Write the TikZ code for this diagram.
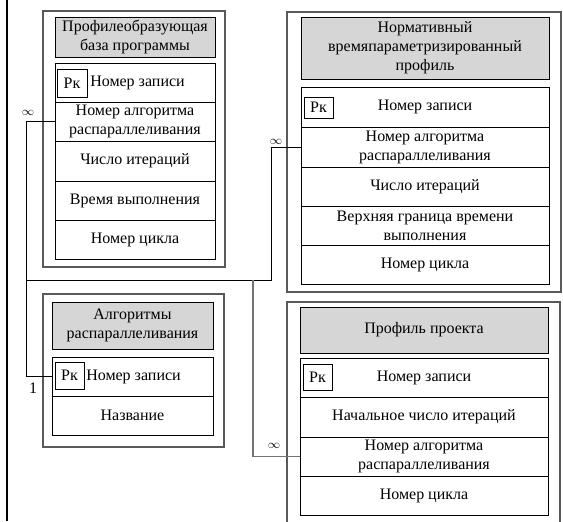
\documentclass[tikz,border=0pt]{standalone}
\usepackage{fontspec}
\setmainfont{Liberation Serif}
\begin{document}
\begin{tikzpicture}[x=0.75pt,y=-0.75pt,
  font=\fontsize{12}{14.25}\selectfont,
  frame/.style={draw=black!65, line width=1pt},
  cell/.style={draw=black, line width=0.75pt, align=center, inner sep=0pt},
  head/.style={cell, fill=black!16},
  pk/.style={draw=black, line width=0.75pt, inner sep=0pt},
  link/.style={draw=black, line width=0.75pt},
  glink/.style={draw=black!55, line width=1pt},
  mult/.style={inner sep=0pt},
  inf/.style={inner sep=0pt, font=\fontsize{9}{10}\selectfont}]
\useasboundingbox (0,0) rectangle (563,521);

% left border line
\draw[line width=1pt] (7,0) -- (7,521);

% ---------- Box 1 ----------
\node[frame, minimum width=136.5pt, minimum height=192pt, inner sep=0pt] (o1) at (134,139) {};
\node[head, minimum width=120pt, minimum height=30pt] (h1) at (135,37) {Профилеобразующая\\база программы};
\node[cell, minimum width=120pt, minimum height=29.25pt] (b1r1) at (135,82.5) {};
\node[cell, minimum width=120pt, minimum height=29.25pt] (b1r2) at (135,121.5) {Номер алгоритма\\распараллеливания};
\node[cell, minimum width=120pt, minimum height=30pt] (b1r3) at (135,161) {Число итераций};
\node[cell, minimum width=120pt, minimum height=29.25pt] (b1r4) at (135,200.5) {Время выполнения};
\node[cell, minimum width=120pt, minimum height=29.25pt] (b1r5) at (135,239.5) {Номер цикла};
\node[pk, minimum width=22.5pt, minimum height=21pt] (p1) at (72,83) {Рк};
\node[inner sep=0pt, anchor=west] (t1) at (90,82.5) {Номер записи};

% ---------- Box 2 ----------
\node[frame, minimum width=205.5pt, minimum height=210pt, inner sep=0pt] (o2) at (424,152) {};
\node[head, minimum width=186pt, minimum height=46.5pt] (h2) at (425,48) {Нормативный\\времяпараметризированный\\профиль};
\node[cell, minimum width=186pt, minimum height=30pt] (b2r1) at (425,107) {Номер записи};
\node[cell, minimum width=186pt, minimum height=30pt] (b2r2) at (425,147) {Номер алгоритма\\распараллеливания};
\node[cell, minimum width=186pt, minimum height=29.25pt] (b2r3) at (425,186.5) {Число итераций};
\node[cell, minimum width=186pt, minimum height=29.25pt] (b2r4) at (425,225.5) {Верхняя граница времени\\выполнения};
\node[cell, minimum width=186pt, minimum height=29.25pt] (b2r5) at (425,264.5) {Номер цикла};
\node[pk, minimum width=21.75pt, minimum height=15.75pt] (p2) at (318.5,107.5) {Рк};

% ---------- Box 3 ----------
\node[frame, minimum width=135.75pt, minimum height=114.75pt, inner sep=0pt] (o3) at (133.5,370.5) {};
\node[head, minimum width=120.75pt, minimum height=35.25pt] (h3) at (132.5,325.5) {Алгоритмы\\распараллеливания};
\node[cell, minimum width=120.75pt, minimum height=29.25pt] (b3r1) at (132.5,376.5) {};
\node[cell, minimum width=120.75pt, minimum height=29.25pt] (b3r2) at (132.5,415.5) {Название};
\node[pk, minimum width=21.75pt, minimum height=20.25pt] (p3) at (69.5,375.5) {Рк};
\node[inner sep=0pt, anchor=west] (t3) at (86,376.5) {Номер записи};

% ---------- Box 4 ----------
\draw[frame] (287,523) -- (287,302) -- (560,302) -- (560,523);
\node[head, minimum width=186pt, minimum height=34.5pt] (h4) at (424,330) {Профиль проекта};
\node[cell, minimum width=186pt, minimum height=29.25pt] (b4r1) at (424,377.5) {Номер записи};
\node[cell, minimum width=186pt, minimum height=30pt] (b4r2) at (424,417) {Начальное число итераций};
\node[cell, minimum width=186pt, minimum height=29.25pt] (b4r3) at (424,456.5) {Номер алгоритма\\распараллеливания};
\node[cell, minimum width=186pt, minimum height=29.25pt] (b4r4) at (424,495.5) {Номер цикла};
\node[pk, minimum width=21.75pt, minimum height=19.5pt] (p4) at (317.5,377) {Рк};

% ---------- Connectors ----------
\draw[link] (b1r2.west) -- ++(-28,0) coordinate (tA) |- (b3r1.west);
\coordinate (jB) at (27,280);
\coordinate (kB) at (271,280);
\draw[link] (jB) -- (kB) |- (b2r2.west);
\coordinate (jC) at (253,280);
\draw[glink] (jC) |- (b4r3.west);

% multiplicities
\node[inf] (m1) at (28,113) {$\infty$};
\node[mult] (m2) at (33,388) {1};
\node[inf] (m3) at (276,142) {$\infty$};
\node[inf] (m4) at (274,446) {$\infty$};
\end{tikzpicture}
\end{document}
